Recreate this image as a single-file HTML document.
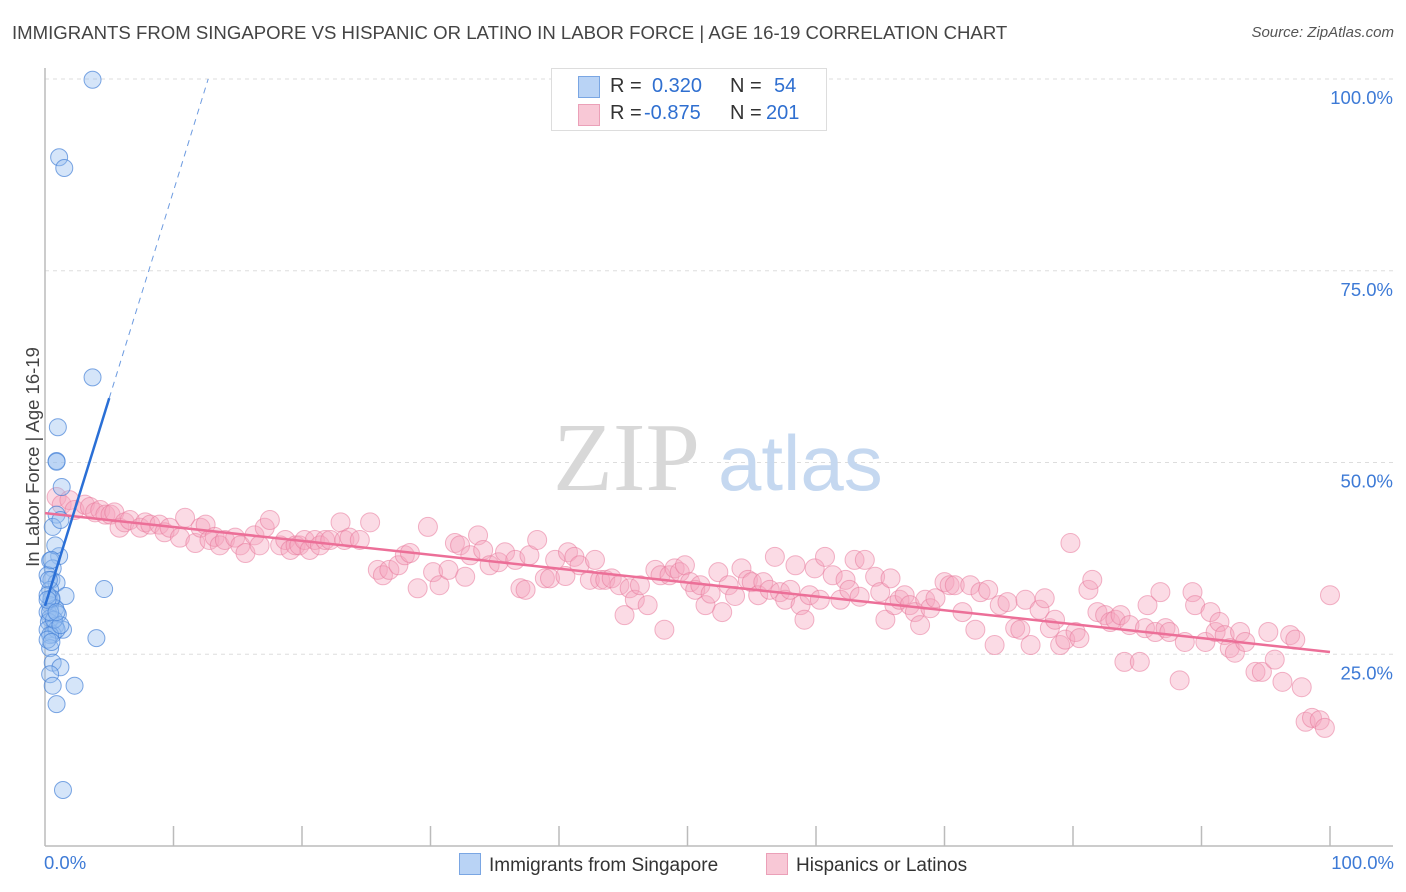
<!DOCTYPE html>
<html><head><meta charset="utf-8"><style>
body{margin:0;background:#fff;font-family:"Liberation Sans",sans-serif;}
#wrap{position:relative;width:1406px;height:892px;overflow:hidden;}
.t{position:absolute;white-space:nowrap;}
</style></head><body>
<div id="wrap">
<div class="t" style="left:12px;top:22px;font-size:18.6px;color:#444;">IMMIGRANTS FROM SINGAPORE VS HISPANIC OR LATINO IN LABOR FORCE | AGE 16-19 CORRELATION CHART</div>
<div class="t" style="right:12px;top:24px;font-size:15px;color:#555;font-style:italic;">Source: ZipAtlas.com</div>
<svg id="svg" width="1406" height="892" style="position:absolute;left:0;top:0"></svg>
</div>
<script>
const yTicks=[25,50,75,100];
const yTickLabels=["25.0%","50.0%","75.0%","100.0%"];
const blueX=[3.7,1.1,1.5,3.7,1.0,0.9,0.9,1.3,0.9,0.6,1.1,0.4,0.6,0.2,0.5,0.9,0.4,1.6,0.5,0.4,0.8,0.2,1.0,0.4,0.3,0.8,1.4,0.2,0.6,0.9,0.4,0.4,0.6,1.2,0.4,0.6,2.3,0.9,1.4,4.6,4.0,0.3,0.5,0.7,0.2,1.2,0.8,0.5,0.2,1.2,0.4,0.2,0.9,0.5];
const blueY=[99.9,89.8,88.4,61.1,54.6,50.2,50.1,46.8,43.2,41.6,37.8,37.2,36.2,35.3,34.7,34.3,33.4,32.6,32.1,31.4,31.0,30.5,30.2,29.7,29.2,28.7,28.2,28.2,27.6,28.2,27.5,25.8,23.9,23.3,22.4,20.9,20.9,18.5,7.3,33.5,27.1,34.7,32.3,29.5,26.9,42.5,39.2,37.3,32.7,28.8,30.5,32.1,30.5,26.6];
const pinkX=[0.9,1.3,1.9,2.3,3.1,3.5,3.9,4.3,4.7,5.1,5.4,5.8,6.2,6.6,7.4,7.8,8.2,8.9,9.3,9.7,10.5,10.9,11.7,12.1,12.5,12.8,13.2,13.6,14.0,14.8,15.2,15.6,16.3,16.7,17.1,17.5,18.3,18.7,19.1,19.5,19.8,20.2,20.6,21.0,21.4,21.8,22.2,23.0,23.3,23.7,24.5,25.3,25.9,26.3,26.8,27.5,28.0,28.4,29.0,29.8,30.2,30.7,31.4,31.9,32.3,32.7,33.1,33.7,34.1,34.6,35.3,35.8,36.6,37.0,37.4,37.7,38.3,38.9,39.3,39.7,40.5,40.7,41.2,41.6,42.4,42.8,43.2,43.6,44.1,44.7,45.1,45.5,45.9,46.3,46.9,47.5,47.9,48.2,48.6,49.0,49.4,49.8,50.2,50.6,51.0,51.4,51.8,52.4,52.7,53.2,53.7,54.2,54.7,55.0,55.5,55.9,56.4,56.8,57.2,57.6,58.0,58.4,58.8,59.1,59.5,59.9,60.3,60.7,61.3,61.9,62.3,62.6,63.0,63.4,63.8,64.6,65.0,65.4,65.8,66.1,66.5,66.9,67.3,67.7,68.1,68.5,68.9,69.3,70.0,70.4,70.8,71.4,72.0,72.4,72.8,73.4,73.9,74.3,74.9,75.5,75.9,76.3,76.7,77.4,77.8,78.2,78.6,79.0,79.4,79.8,80.2,80.5,81.2,81.5,81.9,82.5,82.9,83.3,83.7,84.0,84.4,85.2,85.6,85.8,86.4,86.8,87.2,87.5,88.3,88.7,89.3,89.5,90.3,90.7,91.1,91.4,91.8,92.2,92.6,93.0,93.4,94.2,94.7,95.2,95.7,96.3,96.9,97.3,97.8,98.1,98.6,99.2,99.6,100];
const pinkY=[45.5,44.5,45.1,43.8,44.5,44.2,43.5,43.8,43.2,43.2,43.5,41.5,42.2,42.5,41.5,42.2,41.9,41.9,40.9,41.5,40.2,42.8,39.5,41.5,41.9,39.9,40.3,39.2,39.9,40.2,39.2,38.2,40.5,39.2,41.5,42.5,39.2,39.9,38.6,39.2,39.2,39.9,38.6,39.9,39.2,39.9,39.9,42.2,39.9,40.2,39.9,42.2,36.0,35.3,36.0,36.6,37.9,38.2,33.6,41.6,35.7,34.0,36.0,39.5,39.2,35.1,37.9,40.5,38.6,36.6,37.0,38.3,37.3,33.6,33.4,37.9,39.9,34.9,34.9,37.3,35.2,38.3,37.7,36.6,34.7,37.3,34.7,34.7,34.9,34.0,30.1,33.6,32.1,34.0,31.4,36.0,35.3,28.2,35.3,36.2,35.7,36.6,34.4,33.4,34.0,31.4,32.9,35.7,30.5,34.0,32.6,36.2,34.7,34.4,32.7,34.4,33.4,37.7,33.1,32.1,33.4,36.6,31.4,29.5,32.7,36.2,32.1,37.7,35.3,32.1,34.7,33.4,37.3,32.5,37.3,35.1,33.1,29.5,34.9,31.4,32.1,32.7,31.4,30.5,28.8,32.1,31.0,32.3,34.4,34.0,34.0,30.5,34.0,28.2,33.1,33.4,26.2,31.4,31.8,28.4,28.2,32.1,26.2,30.8,32.3,28.4,29.5,26.2,26.9,39.5,27.9,27.1,33.4,34.7,30.5,30.1,29.2,29.5,30.1,24.0,28.8,24.0,28.4,31.4,27.9,33.1,28.4,27.9,21.6,26.6,33.1,31.4,26.6,30.5,27.9,29.2,27.5,25.8,25.2,27.9,26.6,22.7,22.7,27.9,24.3,21.4,27.5,26.9,20.7,16.2,16.7,16.4,15.4,32.7];
const blueTrend=[[0,31.3],[5,58.4]];
const blueDash=[[5,58.4],[12.7,100]];
const pinkTrend=[[0,43.4],[100,25.3]];

const NS="http://www.w3.org/2000/svg";
const svg=document.getElementById('svg');
const X0=45,X1=1330,Y0=846,Y100=79;
const sx=v=>X0+(X1-X0)*v/100;
const sy=v=>Y0-(Y0-Y100)*v/100;
function el(tag,attrs,parent){const e=document.createElementNS(NS,tag);for(const k in attrs)e.setAttribute(k,attrs[k]);(parent||svg).appendChild(e);return e;}

yTicks.forEach((t,i)=>{
  const g=el('line',{x1:X0,x2:1393,y1:sy(t),y2:sy(t),stroke:'#ddd','stroke-dasharray':'4,4'});
  
  
  const tx=el('text',{x:1393,y:sy(t)+25,'text-anchor':'end','font-size':'18.5',fill:'#3d7ad6','font-family':'Liberation Sans, sans-serif'});
  tx.textContent=yTickLabels[i];
  
  
});
const wm=el('text',{x:553,y:490,'font-size':'98','font-family':'Liberation Serif, serif',fill:'#d8d8d8'});
wm.textContent='ZIP';


const wm2=el('text',{x:718,y:490,'font-size':'78','font-family':'Liberation Sans, sans-serif',fill:'#c5d8f0'});
wm2.textContent='atlas';


const ax=el('line',{x1:X0,x2:1393,y1:Y0,y2:Y0,stroke:'#bbb','stroke-width':1.5});


const ay=el('line',{x1:X0,x2:X0,y1:68,y2:Y0,stroke:'#bbb','stroke-width':1.5});


for(let i=1;i<=10;i++){const tk=el('line',{x1:sx(i*10),x2:sx(i*10),y1:826,y2:Y0,stroke:'#bbb','stroke-width':1.5});

}
pinkX.forEach((x,i)=>{const c=el('circle',{cx:sx(x),cy:sy(pinkY[i]),r:9.5,fill:'rgba(245,165,190,0.4)',stroke:'rgba(232,120,155,0.55)','stroke-width':1});

});
blueX.forEach((x,i)=>{const c=el('circle',{cx:sx(x),cy:sy(blueY[i]),r:8.5,fill:'rgba(150,190,240,0.4)',stroke:'rgba(70,130,215,0.7)','stroke-width':1});

});
const pt=el('line',{x1:sx(pinkTrend[0][0]),y1:sy(pinkTrend[0][1]),x2:sx(pinkTrend[1][0]),y2:sy(pinkTrend[1][1]),stroke:'#ec6f98','stroke-width':2.5});


const bt=el('line',{x1:sx(blueTrend[0][0]),y1:sy(blueTrend[0][1]),x2:sx(blueTrend[1][0]),y2:sy(blueTrend[1][1]),stroke:'#2a6fd6','stroke-width':2.5});


const bd=el('line',{x1:sx(blueDash[0][0]),y1:sy(blueDash[0][1]),x2:sx(blueDash[1][0]),y2:sy(blueDash[1][1]),stroke:'#6d9be0','stroke-width':1,'stroke-dasharray':'6,5'});


</script>
<div class="t" style="left:-87px;top:446px;font-size:18.5px;color:#444;transform:rotate(-90deg);transform-origin:center;width:240px;text-align:center;">In Labor Force | Age 16-19</div>
<div class="t" style="left:44px;top:852px;font-size:18.5px;color:#3d7ad6;">0.0%</div>
<div class="t" style="right:12px;top:852px;font-size:18.5px;color:#3d7ad6;">100.0%</div>
<div style="position:absolute;left:551px;top:68px;width:274px;height:61px;border:1px solid #ddd;background:#fff;font-size:20px;">
 <div style="position:absolute;left:26px;top:7px;width:20px;height:20px;background:#b9d3f5;border:1px solid #7aa6e3;"></div>
 <div class="t" style="left:58px;top:6px;color:#333;">R = </div><div class="t" style="left:100px;top:6px;color:#2f6fd0;">0.320</div>
 <div class="t" style="left:178px;top:6px;color:#333;">N = </div><div class="t" style="left:222px;top:6px;color:#2f6fd0;">54</div>
 <div style="position:absolute;left:26px;top:35px;width:20px;height:20px;background:#f8c8d6;border:1px solid #eba0b8;"></div>
 <div class="t" style="left:58px;top:33px;color:#333;">R = </div><div class="t" style="left:92px;top:33px;color:#2f6fd0;">-0.875</div>
 <div class="t" style="left:178px;top:33px;color:#333;">N = </div><div class="t" style="left:214px;top:33px;color:#2f6fd0;">201</div>
</div>
<div style="position:absolute;left:459px;top:853px;font-size:19px;color:#333;">
 <span style="display:inline-block;width:20px;height:20px;background:#b9d3f5;border:1px solid #7aa6e3;vertical-align:-4px;margin-right:8px;"></span>Immigrants from Singapore</div>
<div style="position:absolute;left:766px;top:853px;font-size:19px;color:#333;">
 <span style="display:inline-block;width:20px;height:20px;background:#f8c8d6;border:1px solid #eba0b8;vertical-align:-4px;margin-right:8px;"></span>Hispanics or Latinos</div>
</body></html>
